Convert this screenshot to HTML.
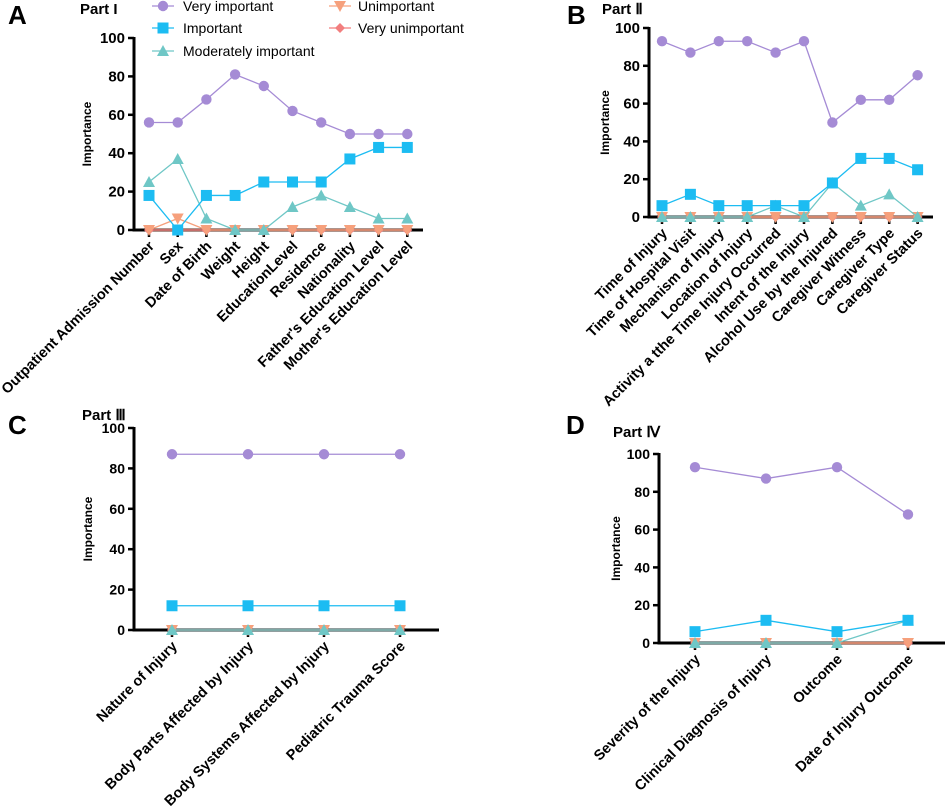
<!DOCTYPE html>
<html><head><meta charset="utf-8"><style>
body{margin:0;background:#fff;width:946px;height:806px;overflow:hidden}
svg{font-family:"Liberation Sans",Arial,sans-serif}
</style></head><body>
<svg id="fig" width="946" height="806" viewBox="0 0 946 806" xmlns="http://www.w3.org/2000/svg"></svg>
<script>
const seriesNames = ["Very important","Important","Moderately important","Unimportant","Very unimportant"];
const seriesColors = ["#a58bd5","#1cbcf2","#6fc7c6","#f6a07c","#f27e7e"];
const yTicks = [0,20,40,60,80,100];

const catsA = ["Outpatient Admission Number","Sex","Date of Birth","Weight","Height","EducationLevel","Residence","Nationality","Father's Education Level","Mother's Education Level"];
const viA = [56,56,68,81,75,62,56,50,50,50];
const imA = [18,0,18,18,25,25,25,37,43,43];
const miA = [25,37,6,0,0,12,18,12,6,6];
const unA = [0,6,0,0,0,0,0,0,0,0];
const vuA = [0,0,0,0,0,0,0,0,0,0];

const catsB = ["Time of Injury","Time of Hospital Visit","Mechanism of Injury","Location of Injury","Activity a tthe Time Injury Occurred","Intent of the Injury","Alcohol Use by the Injured","Caregiver Witness","Caregiver Type","Caregiver Status"];
const viB = [93,87,93,93,87,93,50,62,62,75];
const imB = [6,12,6,6,6,6,18,31,31,25];
const miB = [0,0,0,0,6,0,18,6,12,0];
const unB = [0,0,0,0,0,0,0,0,0,0];
const vuB = [0,0,0,0,0,0,0,0,0,0];

const catsC = ["Nature of Injury","Body Parts Affected by Injury","Body Systems Affected by Injury","Pediatric Trauma Score"];
const viC = [87,87,87,87];
const imC = [12,12,12,12];
const miC = [0,0,0,0];
const unC = [0,0,0,0];
const vuC = [0,0,0,0];

const catsD = ["Severity of the Injury","Clinical Diagnosis of Injury","Outcome","Date of Injury Outcome"];
const viD = [93,87,93,68];
const imD = [6,12,6,12];
const miD = [0,0,0,12];
const unD = [0,0,0,0];
const vuD = [0,0,0,0];

const NS="http://www.w3.org/2000/svg";
const svg=document.getElementById('fig');
function mk(tag,attrs,parent){const e=document.createElementNS(NS,tag);for(const k in attrs)e.setAttribute(k,attrs[k]);(parent||svg).appendChild(e);return e;}

function marker(g,kind,x,y,color){
  let e;
  if(kind===0){e=mk('circle',{cx:x,cy:y,r:5.2,fill:color},g);}
  else if(kind===1){e=mk('rect',{x:x-5.5,y:y-5.5,width:11,height:11,fill:color},g);}
  else if(kind===2){e=mk('polygon',{points:`${x},${y-6} ${x+6},${y+5} ${x-6},${y+5}`,fill:color},g);}
  else if(kind===3){e=mk('polygon',{points:`${x-6},${y-5} ${x+6},${y-5} ${x},${y+6}`,fill:color},g);}
  else {e=mk('polygon',{points:`${x},${y-5} ${x+5},${y} ${x},${y+5} ${x-5},${y}`,fill:color},g);}
  
  
}

function panel(p){
  const g=mk('g',{});
  
  
  const yS=v=>p.y0-(p.y0-p.y100)*v/100;
  const xS=i=>p.x1+i*p.dx;
  const lt=mk('text',{x:p.lx,y:p.ly,'font-size':26,'font-weight':'bold',fill:'#000'},g);lt.textContent=p.letter;
  
  const tt=mk('text',{x:p.tx,y:p.ty,'font-size':15,'font-weight':'bold',fill:'#000'},g);tt.textContent=p.title;
  
  yTicks.forEach(t=>{
    const y=yS(t);
    mk('line',{x1:p.ax-6,x2:p.ax,y1:y,y2:y,stroke:'#000','stroke-width':2.5},g);
    const tl=mk('text',{x:p.ax-9,y:y+5,'font-size':p.tfs,'font-weight':'bold','text-anchor':'end',fill:'#000'},g);
    tl.textContent=t;
    
    
  });
  const yt=mk('text',{x:0,y:0,'font-size':12,'font-weight':'bold','text-anchor':'middle',fill:'#000',transform:`translate(${p.yt},${(p.y0+p.y100)/2}) rotate(-90)`},g);
  yt.textContent='Importance';
  
  mk('line',{x1:p.ax,x2:p.ax,y1:p.y100-1,y2:p.y0+1.5,stroke:'#000','stroke-width':3},g);
  mk('line',{x1:p.ax,x2:p.xe,y1:p.y0,y2:p.y0,stroke:'#000','stroke-width':3},g);
  p.cats.forEach((c,i)=>{
    const x=xS(i);
    mk('line',{x1:x,x2:x,y1:p.y0,y2:p.y0+7,stroke:'#000','stroke-width':2.5},g);
    const tl=mk('text',{x:0,y:0,'font-size':14.5,'font-weight':'bold','text-anchor':'end',fill:'#000',transform:`translate(${x+6},${p.y0+17}) rotate(-45)`},g);
    tl.textContent=c;
    
    
  });
  // overlapping zero-lines tint the baseline
  const mi=p.series[2];
  for(let i=0;i<mi.length-1;i++){
    const col=(mi[i]===0&&mi[i+1]===0)?'#4f6466':'#7a5449';
    mk('line',{x1:xS(i),x2:xS(i+1),y1:p.y0,y2:p.y0,stroke:col,'stroke-width':3.2},g);
  }
  for(let s=p.series.length-1;s>=0;s--){
    const vals=p.series[s];
    const sg=mk('g',{},g);
    
    
    const pts=vals.map((v,i)=>xS(i)+','+yS(v)).join(' ');
    mk('polyline',{points:pts,fill:'none',stroke:seriesColors[s],'stroke-width':1.3},sg);
    vals.forEach((v,i)=>marker(sg,s,xS(i),yS(v),seriesColors[s]));
  }
}

panel({name:'panel-a',letter:'A',lx:8,ly:24,title:'Part I',tx:80,ty:14,ax:134,xe:423,y0:230,y100:38,x1:149,dx:28.7,tfs:15,yt:91,
  cats:catsA,series:[viA,imA,miA,unA,vuA]});
panel({name:'panel-b',letter:'B',lx:567,ly:24,title:'Part Ⅱ',tx:602,ty:14,ax:649,xe:933,y0:217,y100:28,x1:662,dx:28.4,tfs:15,yt:609,
  cats:catsB,series:[viB,imB,miB,unB,vuB]});
panel({name:'panel-c',letter:'C',lx:8,ly:434,title:'Part Ⅲ',tx:82,ty:420,ax:134,xe:439,y0:630,y100:428,x1:172,dx:76,tfs:14,yt:92,
  cats:catsC,series:[viC,imC,miC,unC,vuC]});
panel({name:'panel-d',letter:'D',lx:566,ly:434,title:'Part Ⅳ',tx:613,ty:437,ax:659,xe:945,y0:643,y100:454,x1:695,dx:71,tfs:14,yt:620,
  cats:catsD,series:[viD,imD,miD,unD,vuD]});

const leg=mk('g',{});


const legX=[163,163,163,340,340], legY=[6,28,51,6,28], legT=[183,183,183,358,358];
seriesNames.forEach((n,s)=>{
  const eg=mk('g',{},leg);
  
  
  mk('line',{x1:legX[s]-11,x2:legX[s]+11,y1:legY[s],y2:legY[s],stroke:seriesColors[s],'stroke-width':1.3},eg);
  marker(eg,s,legX[s],legY[s],seriesColors[s]);
  const t=mk('text',{x:legT[s],y:legY[s]+5,'font-size':14,fill:'#000'},eg);
  t.textContent=n;
});
</script>
</body></html>
